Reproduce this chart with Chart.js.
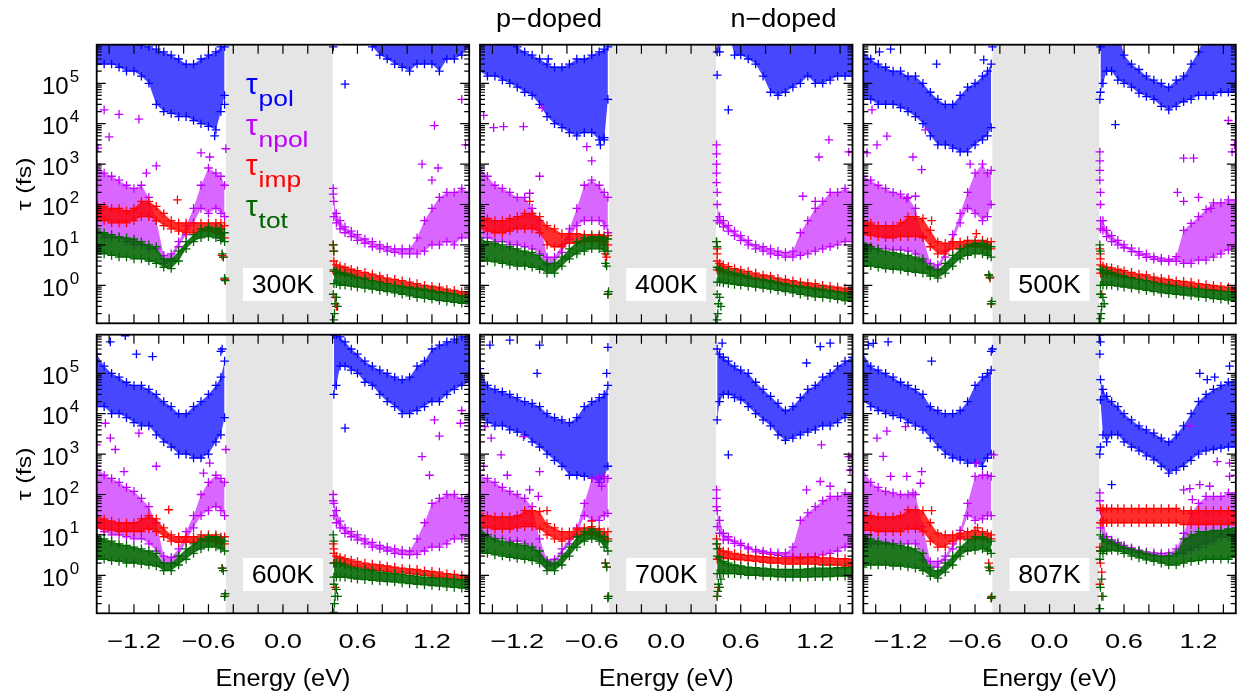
<!DOCTYPE html>
<html>
<head>
<meta charset="utf-8">
<script src="https://cdn.jsdelivr.net/npm/chart.js@4.4.1/dist/chart.umd.min.js"></script>
<style>
  html, body { margin: 0; padding: 0; background: #fff; }
  #wrap { position: relative; width: 1243px; height: 696px; }
  #wrap canvas { position: absolute; left: 0; top: 0; }
</style>
</head>
<body>
<div id="wrap"></div>
<script>
// energy grid (eV): 19 points on the p side, 21 on the n side
const ENERGY = [-1.50,-1.44,-1.38,-1.32,-1.26,-1.20,-1.14,-1.08,-1.02,-0.96,-0.90,-0.84,-0.78,-0.72,-0.66,-0.60,-0.54,-0.50,-0.47,
  0.41,0.43,0.46,0.50,0.55,0.60,0.66,0.72,0.78,0.84,0.90,0.96,1.02,1.08,1.14,1.20,1.26,1.32,1.38,1.44,1.50];
const N_LEFT = 19;

const TEMPS = ['300K','400K','500K','600K','700K','807K'];
const SERIES = ['pol','npol','imp','tot'];
const COLORS = ['#0000ff','#c000ff','#ff0000','#006400'];
const FILL_ALPHA = [0.72, 0.6, 0.82, 0.88];

const XTICKS = [-1.4,-1.2,-1.0,-0.8,-0.6,-0.4,-0.2,0,0.2,0.4,0.6,0.8,1.0,1.2,1.4];
const XLABELS = [-1.2,-0.6,0,0.6,1.2];
const XLABEL_TEXT = ['\u22121.2','\u22120.6','0.0','0.6','1.2'];
const YDECADES = [0,1,2,3,4,5];
const GAP = [-0.46, 0.40];
const YMIN = 0.1147, YMAX = 9.03e5;

// ---- 300K ----
const polHi300 = [2e6,2e6,2e6,2e6,2e6,2e6,9e5,8e5,7e5,6e5,5e5,4e5,3e5,3e5,4e5,5e5,6e5,8e5,8e5,
  2e6,2e6,2e6,2e6,2e6,2e6,2e6,2e6,2e6,2e6,2e6,2e6,2e6,2e6,2e6,2e6,2e6,2e6,2e6,2e6,2e6];
const polLo300 = [3e5,3e5,3e5,2.5e5,2e5,2e5,1.5e5,1e5,3e4,2e4,1.8e4,1.5e4,1.5e4,1.2e4,1e4,8.6e3,7e3,2e4,5e4,
  2e6,2e6,2e6,2e6,2e6,2e6,2e6,8e5,5e5,4e5,3e5,2.5e5,2e5,3e5,3e5,3e5,2e5,4e5,4e5,5e5,8e5];
const npolHi300 = [1000,600,500,400,300,250,300,150,40,5.5,6,12,30,80,300,800,600,500,300,
  120,60,40,28,22,18,14,12,10,9,8,8,8,15,40,80,150,200,200,250,200];
const npolLo300 = [20,15,15,15,12,10,10,8,8,3.5,4,9,18,35,80,60,80,60,50,
  50,35,25,20,16,13,11,9,8,7,6.5,6,6,6,7,10,10,12,10,15,15];
const impHi300 = [100,90,80,80,70,80,120,120,90,60,40,35,35,35,35,35,35,35,30,
  4,3.2,3,2.8,2.5,2.3,2.1,1.9,1.7,1.5,1.4,1.3,1.2,1.1,1.0,0.95,0.9,0.8,0.75,0.7,0.65];
const impLo300 = [40,40,35,35,35,40,50,50,40,30,25,22,20,20,22,22,20,18,15,
  2.2,2,2,1.8,1.7,1.5,1.4,1.3,1.2,1.1,1.0,0.9,0.85,0.8,0.75,0.7,0.65,0.62,0.6,0.55,0.5];
const totHi300 = [25,20,18,16,15,14,12,10,9,4.5,4.5,7,12,18,25,28,26,25,20,
  2.4,2.2,2.1,2.0,1.8,1.6,1.5,1.3,1.2,1.1,1.0,0.95,0.9,0.85,0.8,0.75,0.7,0.65,0.6,0.55,0.55];
const totLo300 = [6,6,5.5,5,5,4.5,4.5,4,3.5,2.8,2.6,4,8,12,15,16,15,13,12,
  1.1,1.1,1.0,1.0,0.95,0.9,0.85,0.8,0.75,0.7,0.65,0.6,0.55,0.5,0.48,0.45,0.42,0.4,0.38,0.36,0.35];
const polX300 = [[0.405,8e5],[0.5,9.5e4],[-0.47,3e4],[-0.55,5e3]];
const npolX300 = [[0.405,250],[0.405,180],[1.44,4e4],[1.22,9e3],[1.47,3e3],[1.12,1000],[1.25,800],[1.2,400],
  [-1.44,2.2e4],[-1.32,1.7e4],[-1.16,1.3e4],[-1.4,4.7e3],[-1.49,2.5e3],[-1.02,900],[-1.1,600],[-0.66,1900],[-0.46,2.4e3],[-0.59,1500]];
const impX300 = [[-0.49,5.5],[-0.48,5],[-0.47,1.4],[0.405,10],[0.41,7],[0.42,0.5],[0.43,0.3],[-0.85,130]];
const totX300 = [[-0.49,6],[-0.48,5],[-0.47,1.5],[-0.465,1.3],[0.405,10],[0.41,7],[0.41,0.14],[0.415,0.2],[0.42,0.35],[0.43,0.5],[0.44,0.3],[0.405,0.6]];

// ---- 400K ----
const polHi400 = [2e6,2e6,2e6,2e6,2e6,8e5,6e5,5e5,4e5,3e5,2.5e5,2.5e5,3e5,4e5,4e5,5e5,6e5,7e5,8e5,
  2e6,2e6,2e6,2e6,2e6,2e6,2e6,2e6,2e6,2e6,2e6,2e6,2e6,2e6,2e6,2e6,2e6,2e6,2e6,2e6,2e6];
const polLo400 = [2e5,1.5e5,1.5e5,1.2e5,1e5,8e4,6e4,5e4,3e4,1.5e4,1e4,8e3,6e3,5e3,6e3,6e3,4e3,4e3,4e4,
  6e5,6e5,2e6,2e6,5e5,5e5,4e5,3e5,1.5e5,6e4,5e4,6e4,8e4,1e5,1.5e5,1e5,1e5,1.2e5,1.5e5,1.5e5,1.5e5];
const npolHi400 = [800,500,300,250,200,150,150,80,40,5,5,10,25,80,300,400,300,200,150,
  100,50,40,30,22,17,13,10,9,8,7,6.5,7,20,40,80,120,200,200,250,200];
const npolLo400 = [15,15,12,12,10,10,9,8,6,3.2,3.5,6.5,14,30,40,40,40,30,20,
  40,35,28,22,17,13,10,8,7,6,5.5,5,5,5.5,6,7,8,9,10,12,12];
const impHi400 = [50,45,40,40,45,50,60,60,50,30,25,19,19,19,18,18,18,17,17,
  4,3.5,3.2,2.9,2.6,2.4,2.2,2.0,1.8,1.7,1.5,1.4,1.3,1.2,1.15,1.1,1.0,0.95,0.9,0.85,0.85];
const impLo400 = [25,22,20,20,22,25,25,25,20,10,9,9,11,11,12,12,12,10,10,
  2.4,2.3,2.2,2.0,1.8,1.7,1.5,1.4,1.3,1.2,1.1,1.0,0.95,0.9,0.85,0.8,0.75,0.72,0.7,0.65,0.62];
const totHi400 = [15,12,11,10,9,8,7,6.5,5.5,3.5,3.5,5,8,12,15,16,16,15,14,
  2.8,2.6,2.4,2.2,2.0,1.9,1.7,1.5,1.4,1.3,1.2,1.1,1.0,0.95,0.9,0.85,0.8,0.75,0.7,0.65,0.65];
const totLo400 = [4,4,3.8,3.5,3.2,3,3,2.8,2.5,2,2,3,4.5,6,7,8,8,7,7,
  1.2,1.2,1.15,1.1,1.05,1.0,0.95,0.9,0.85,0.8,0.75,0.7,0.65,0.6,0.55,0.52,0.5,0.48,0.45,0.42,0.4];
const polX400 = [[0.41,1.6e5],[0.5,2.2e4],[-0.53,3e3],[-0.5,4.5e3],[-0.95,4e5]];
const npolX400 = [[0.405,3000],[0.405,1800],[0.405,1000],[0.405,600],[0.405,350],[0.41,200],[1.31,4000],[1.23,1500],[1.47,2000],[1.1,160],[1.2,120],
  [-1.47,1.6e4],[-1.39,8e3],[-1.31,8.5e3],[-1.15,8.5e3],[-1.0,2.5e4],[-0.64,2.7e3],[-1.02,500],[-1.1,190],[-0.6,1200]];
const impX400 = [[0.405,12],[0.41,8],[0.41,6],[-0.49,6],[-0.48,5],[-0.47,0.6],[-1.1,120]];
const totX400 = [[-0.49,3.5],[-0.48,3],[-0.47,0.6],[-0.465,0.7],[0.405,12],[0.41,9],[0.41,0.14],[0.415,0.2],[0.42,0.35],[0.43,0.5],[0.44,0.3],[0.41,0.6]];

// ---- 500K ----
const polHi500 = [6e5,4e5,3e5,2.5e5,2e5,2e5,1.5e5,1.5e5,1e5,6e4,4e4,3e4,3e4,5e4,8e4,1e5,1.5e5,2e5,3e5,
  8e5,2e6,2e6,2e6,2e6,5e5,3e5,2.2e5,1.5e5,1.2e5,1e5,8e4,1.2e5,1.5e5,3e5,6e5,2e6,2e6,2e6,2e6,2e6];
const polLo500 = [4e4,4e4,3e4,3e4,3e4,2.5e4,2e4,1.5e4,1e4,5e3,3e3,3e3,2.5e3,2e3,2e3,3e3,4e3,5e3,8e3,
  6e4,1e5,2e5,2e5,1.2e5,1e5,8e4,5.7e4,4.7e4,4e4,2.7e4,2.2e4,2.7e4,3.5e4,4e4,5e4,5e4,5e4,6e4,6e4,6e4];
const npolHi500 = [500,400,300,250,200,180,150,80,16,3.5,3.2,7,18,60,200,600,1000,600,700,
  40,40,23,17,13,10,8.3,6.8,6,5.1,4.7,4.4,5.1,23,34,50,75,110,110,130,130];
const npolLo500 = [8,8,8,8,7.5,7.5,7,6,4,2.6,2.5,5,12,35,80,60,40,50,100,
  25,23,16,12,10,8.5,6.8,5.6,4.9,4.4,4,3.9,3.9,3.5,3.5,4.2,4.2,5,6,7.5,9];
const impHi500 = [40,35,30,30,30,35,50,50,45,23,12,11,12,12,13,13,13,12,12,
  3.2,3,2.8,2.7,2.5,2.3,2.1,1.9,1.8,1.6,1.5,1.4,1.3,1.25,1.2,1.1,1.05,1.0,0.95,0.9,0.85];
const impLo500 = [18,17,16,15,15,16,16,16,15,9,6,6,8,8,9,9,9,8,8,
  2,2,1.9,1.9,1.7,1.6,1.5,1.4,1.3,1.2,1.1,1.05,1.0,0.95,0.9,0.85,0.8,0.78,0.75,0.72,0.7];
const totHi500 = [11,9,8,7,6.5,6,5.5,5,4.5,2.8,2.4,3.5,5.5,8,10,11,11,10,9,
  2.5,2.3,2.3,2.1,1.9,1.7,1.55,1.4,1.3,1.2,1.1,1.0,0.95,0.9,0.85,0.82,0.78,0.75,0.72,0.7,0.68];
const totLo500 = [3,3,2.8,2.6,2.5,2.4,2.2,2.1,2,1.7,1.5,2,3,4.5,5.5,6,6,5.5,5,
  1.0,1.0,1.0,1.0,0.95,0.9,0.85,0.8,0.75,0.7,0.65,0.62,0.6,0.57,0.55,0.52,0.5,0.47,0.45,0.43,0.42];
const polX500 = [[0.53,9.5e3],[0.405,4e4],[-1.37,6e5],[-1.28,7e5],[-0.53,3.8e5],[-0.91,3e5],[-0.46,8e5]];
const npolX500 = [[0.405,2000],[0.405,1200],[0.405,700],[0.405,400],[0.41,200],[0.41,100],[1.08,1400],[1.16,1400],[1.44,1.2e4],[1.5,6000],[1.49,3000],[1.47,2000],[1.03,200],[1.08,120],[1.2,150],[1.3,80],
  [-1.43,2.2e4],[-1.31,4.9e3],[-1.39,3e3],[-1.47,1.9e3],[-1.1,1.5e3],[-1.03,730],[-1.0,7e3],[-0.64,1e3],[-1.08,160],[-1.15,140]];
const impX500 = [[0.405,8],[0.41,6],[0.41,4.5],[0.42,0.6],[-0.49,1.8],[-0.48,1.5],[-0.47,0.35],[-0.59,19],[-0.95,40]];
const totX500 = [[-0.49,1.8],[-0.48,1.6],[-0.47,0.35],[-0.465,0.4],[0.405,10],[0.41,7],[0.41,0.15],[0.415,0.2],[0.42,0.3],[0.43,0.5],[0.44,0.35],[0.41,0.6]];

// ---- 600K ----
const polHi600 = [3e5,1.5e5,1e5,8e4,6e4,5e4,5e4,4e4,3e4,2e4,1.5e4,1e4,1e4,1.5e4,2e4,3e4,5e4,8e4,2e5,
  9e5,9e5,8e5,6e5,4e5,3e5,2e5,1.5e5,1.2e5,1e5,8e4,7e4,8e4,1.5e5,2e5,4e5,5e5,6e5,7e5,8e5,9e5];
const polLo600 = [1.5e4,1.5e4,1e4,1e4,8e3,6e3,5e3,5e3,3e3,2e3,1.5e3,1e3,1e3,800,800,1e3,2e3,3e3,8e3,
  3e4,5e4,1.5e5,1.5e5,1.2e5,1e5,6e4,5e4,3e4,2e4,1.5e4,1e4,1e4,1.2e4,1.5e4,2e4,2e4,3e4,4e4,5e4,6e4];
const npolHi600 = [500,300,250,200,150,120,80,50,20,3,2.8,4.5,12,30,100,200,300,250,200,
  60,40,22,15,12,10,8,6.5,5.5,5,4.5,4.2,4,8,20,60,80,100,100,80,100];
const npolLo600 = [15,12,10,10,9,8,8,6,4,2,2,3,7,15,30,40,50,40,30,
  30,20,15,11,9,7.5,6,5,4.5,4,3.5,3.3,3.2,3.3,4,5,5,6,8,8,10];
const impHi600 = [30,25,22,20,20,20,25,30,25,15,10,9,9,9,10,10,10,9,9,
  3.5,3,2.8,2.6,2.4,2.2,2.0,1.9,1.8,1.7,1.6,1.5,1.45,1.4,1.3,1.25,1.2,1.1,1.05,1.0,0.95];
const impLo600 = [15,14,13,12,12,12,12,14,12,9,7,6.5,6.5,6.5,7,7,6.5,6,6,
  2,2,2,1.9,1.7,1.6,1.5,1.4,1.3,1.25,1.2,1.15,1.1,1.05,1.0,0.95,0.9,0.85,0.8,0.78,0.75];
const totHi600 = [10,8,7,6,5.5,5,4.5,4,3.5,2,2,3,4.5,6,8,9,9,8,7,
  2,2,2,1.8,1.6,1.5,1.4,1.3,1.2,1.15,1.1,1.05,1.0,0.95,0.9,0.88,0.85,0.82,0.8,0.78,0.75];
const totLo600 = [2.5,2.5,2.3,2.2,2,2,1.9,1.8,1.7,1.3,1.3,1.8,2.5,3.5,4.5,5,5,4.5,4,
  0.9,0.9,0.9,0.9,0.85,0.8,0.78,0.75,0.72,0.7,0.68,0.65,0.62,0.6,0.58,0.56,0.54,0.52,0.5,0.48,0.45];
const polX600 = [[0.5,4.4e3],[-1.39,6e5],[-1.27,8.5e5],[-1.18,3e5],[-1.05,2.6e5],[-0.5,3.5e5],[-0.49,4e5]];
const npolX600 = [[0.405,100],[0.405,70],[1.22,7e3],[1.44,1.2e4],[1.26,2.8e3],[1.12,870],[1.18,300],[1.43,5.8e3],
  [-1.43,5.8e3],[-1.39,2.5e3],[-1.5,1.7e3],[-1.16,3.3e3],[-1.35,1.3e3],[-1.02,500],[-1.28,370],[-0.46,1.3e3],[-0.59,600],[-0.64,340]];
const impX600 = [[0.405,6],[0.41,4.5],[0.42,0.5],[-0.49,1.5],[-0.47,0.3],[-0.92,42]];
const totX600 = [[-0.49,1.5],[-0.48,1.3],[-0.47,0.3],[-0.465,0.35],[0.405,10],[0.41,7],[0.41,0.12],[0.415,0.2],[0.42,0.3],[0.43,0.45],[0.44,0.3],[0.41,0.6]];

// ---- 700K ----
const polHi700 = [1.3e5,5e4,4e4,3.5e4,3e4,2.5e4,2e4,1.8e4,1.5e4,1e4,8e3,7e3,6e3,8e3,1.5e4,2e4,2.5e4,3e4,5e4,
  4e5,3e5,2.5e5,2e5,1.5e5,1.2e5,1e5,6e4,4e4,2.7e4,1.8e4,1.2e4,1.5e4,2.5e4,4e4,5e4,8e4,1e5,1.5e5,2e5,2.5e5];
const polLo700 = [8e3,6e3,5e3,5e3,4e3,3.5e3,3e3,2e3,1.5e3,1e3,700,500,300,300,280,250,200,250,500,
  7e3,2e4,3e4,3e4,2.5e4,2.2e4,1.5e4,1e4,7e3,5e3,3e3,2.2e3,2.5e3,3e3,3.5e3,4e3,5e3,5e3,6e3,8e3,1e4];
const npolHi700 = [300,250,200,150,120,100,80,50,8,2.4,2.5,4.5,8,15,60,250,280,280,250,
  40,23,11,9,7,6.2,5,4.3,4,3.7,3.6,3.6,5,23,35,50,70,90,90,110,110];
const npolLo700 = [10,9,8,8,7,7,6,5,3,1.7,1.9,3.5,6,10,30,23,23,30,34,
  16,11,7.5,7.5,6.2,5.5,4.5,3.8,3.5,3.3,3.1,2.9,2.9,2.6,2.8,2.9,3.2,3.5,4,5,5];
const impHi700 = [34,30,28,28,28,30,40,40,38,19,15,12,12,14,15,16,14,12,12,
  6,4.5,4,3.8,3.5,3.3,3.1,3.0,2.9,2.8,2.7,2.7,2.7,2.8,2.8,2.8,2.7,2.7,2.6,2.6,2.5];
const impLo700 = [15,15,14,14,14,15,16,16,14,10,8,7,8,9,10,10,9,8,8,
  2.5,2.7,2.7,2.6,2.5,2.4,2.3,2.2,2.1,2.0,2.0,1.9,1.9,1.9,1.9,1.9,1.8,1.8,1.8,1.7,1.7];
const totHi700 = [15,10,8,7,6.5,6,5.5,5,4,2.2,2,3,5,9,12,14,12,9,7,
  3,2.8,2.2,2.0,1.8,1.7,1.6,1.55,1.5,1.45,1.4,1.4,1.4,1.4,1.45,1.5,1.5,1.5,1.55,1.55,1.6];
const totLo700 = [3.5,3.5,3.2,3,2.8,2.6,2.5,2.3,2,1.3,1.3,1.8,3,5,7,8,7,5,4,
  1.1,1.1,1.1,1.1,1.1,1.05,1.0,1.0,0.95,0.95,0.92,0.9,0.9,0.9,0.9,0.92,0.92,0.93,0.95,0.95,0.95];
const polX700 = [[0.5,960],[-1.42,5e5],[-1.26,6.6e5],[-1.02,5e5],[-1.04,1e5],[-0.47,4.4e5],[-0.48,1e5],[1.24,4.6e5],[1.32,5.6e5],[1.13,1.8e5],[0.45,5.6e5]];
const npolX700 = [[0.405,130],[0.405,80],[0.405,50],[1.24,210],[1.32,160],[1.13,130],[1.25,1700],[1.47,870],[1.48,400],
  [-1.46,4.8e3],[-1.41,2.5e3],[-1.33,960],[-1.47,500],[-1.28,300],[-1.02,370],[-1.15,2.7e3],[-1.1,130],[-1.03,90],[-0.52,160]];
const impX700 = [[0.405,8],[0.41,0.3],[0.42,0.5],[-0.49,2],[-0.48,1.6],[-0.47,0.3],[-0.6,22],[-0.96,40]];
const totX700 = [[-0.49,2],[-0.48,1.6],[-0.47,0.27],[-0.465,0.3],[0.405,6],[0.41,4.5],[0.41,0.3],[0.415,0.4],[0.42,0.6],[0.43,0.5],[0.44,0.8]];

// ---- 807K ----
const polHi807 = [3e5,1.5e5,1.2e5,1e5,8e4,6e4,5e4,4e4,3e4,1.5e4,1.2e4,1e4,1e4,1.2e4,2e4,5e4,8e4,1e5,1.2e5,
  7e4,4e4,2.7e4,2e4,1.5e4,1e4,7e3,5e3,4e3,3.3e3,2.5e3,2e3,3e3,5e3,1e4,2e4,3e4,4e4,5e4,6e4,7e4];
const polLo807 = [2e4,1.5e4,1.2e4,1e4,9e3,8e3,6e3,5e3,4e3,2.5e3,1.5e3,1e3,800,720,600,600,500,800,1000,
  2.2e4,3e3,2e3,3e3,3e3,2e3,1.5e3,1.2e3,900,720,500,340,400,500,700,1e3,1.2e3,1.3e3,1.4e3,1.5e3,1.5e3];
const npolHi807 = [400,200,150,120,110,100,100,100,16,2.2,2.2,3,6,13,60,280,300,300,280,
  40,23,9,7.5,6.5,5.5,4.8,4.2,3.8,3.6,3.5,3.6,4.5,11,34,60,90,90,90,110,110];
const npolLo807 = [5,6,6,6,6,6,6,6,2.4,1.6,1.6,2.4,4.5,9,30,23,25,30,30,
  15,9,6.8,6.2,5.5,4.8,4.2,3.7,3.3,3.1,3,3.1,3.4,3.5,4.2,5,6,7,9,9,9];
const impHi807 = [35,30,28,28,28,30,42,42,40,20,11,10,10,11,12,13,12,11,10,
  45,45,45,45,45,45,45,45,45,45,45,45,45,40,40,40,40,40,40,40,40];
const impLo807 = [13,13,12,12,12,12,14,14,12,7,5,5,7,8,8,8,8,8,8,
  20,20,20,20,20,20,20,20,20,20,20,20,20,18,18,18,18,18,18,18,18];
const totHi807 = [10,8,7,6.5,6,5.5,5,4.5,3.5,1.5,1.3,2,3,5,7.5,9,9,8,7,
  10,8,7.5,7,6,5,4.5,4,3.5,3.2,3,3,3.5,8,10,12,12,13,13,14,15];
const totLo807 = [1.6,1.8,1.8,1.8,1.7,1.7,1.6,1.5,1.3,0.95,0.85,1.2,1.8,3,4,4.2,4.5,4,3.5,
  4,3.5,4,4.2,4,3.5,3,2.7,2.4,2.2,2,1.8,1.8,2,2.2,2.3,2.5,2.5,2.5,2.5,2.8];
const polX807 = [[0.405,9e5],[0.41,6e5],[0.405,3e5],[0.405,1e3],[0.41,1.5e3],[0.5,175],[1.21,1e5],[1.27,7e4],[1.33,8e4],[1.45,1.5e5],
  [-1.46,5e5],[-1.42,5.5e5],[-1.3,6e5],[-0.46,4e5],[-0.47,3.5e5],[-0.95,2e5]];
const npolX807 = [[0.405,110],[0.405,70],[0.41,45],[1.08,130],[1.13,140],[1.21,175],[1.29,160],[1.15,75],[1.45,280],[1.45,600],[1.35,650],[1.48,4e3],[1.13,5e3],
  [-1.16,4.8e3],[-1.31,3.7e3],[-1.39,2.5e3],[-1.34,880],[-1.28,280],[-1.15,280],[-1.03,370],[-1.04,190],[-1.1,110],[-0.45,960],[-0.59,600]];
const impX807 = [[0.405,5],[0.41,4],[0.41,2],[0.42,1.2],[0.405,0.6],[-0.49,2],[-0.48,1.5],[-0.47,0.28],[-0.95,40],[-0.58,15],[0.42,0.3]];
const totX807 = [[-0.49,1.6],[-0.48,1.3],[-0.47,0.27],[-0.465,0.3],[0.405,0.15],[0.41,0.5],[0.42,0.8],[0.405,2.5],[0.43,0.3]];

const PANELS = [
  { hi: [polHi300, npolHi300, impHi300, totHi300], lo: [polLo300, npolLo300, impLo300, totLo300], extra: [polX300, npolX300, impX300, totX300] },
  { hi: [polHi400, npolHi400, impHi400, totHi400], lo: [polLo400, npolLo400, impLo400, totLo400], extra: [polX400, npolX400, impX400, totX400] },
  { hi: [polHi500, npolHi500, impHi500, totHi500], lo: [polLo500, npolLo500, impLo500, totLo500], extra: [polX500, npolX500, impX500, totX500] },
  { hi: [polHi600, npolHi600, impHi600, totHi600], lo: [polLo600, npolLo600, impLo600, totLo600], extra: [polX600, npolX600, impX600, totX600] },
  { hi: [polHi700, npolHi700, impHi700, totHi700], lo: [polLo700, npolLo700, impLo700, totLo700], extra: [polX700, npolX700, impX700, totX700] },
  { hi: [polHi807, npolHi807, impHi807, totHi807], lo: [polLo807, npolLo807, impLo807, totLo807], extra: [polX807, npolX807, impX807, totX807] }
];

// page layout of the six frames
const COL_LEFT = [96.7, 480, 863.3];
const ROW_TOP = [44.7, 334.7];
const PANEL_W = 372.5, PANEL_H = 278.6;
const FONT = '"Liberation Sans", Arial, Helvetica, sans-serif';

function rgba(hex, a) {
  const n = parseInt(hex.slice(1), 16);
  return 'rgba(' + (n >> 16) + ',' + ((n >> 8) & 255) + ',' + (n & 255) + ',' + a + ')';
}

function pts(vals, from, to) {
  const out = [];
  for (let i = from; i < to; i++) out.push({ x: ENERGY[i], y: vals[i] });
  return out;
}

// text with a horizontal stretch, like the reference lettering
function txt(ctx, s, x, y, size, align, sx) {
  ctx.save();
  ctx.font = size + 'px ' + FONT;
  ctx.textAlign = align;
  ctx.textBaseline = 'alphabetic';
  ctx.fillStyle = '#000';
  ctx.translate(x, y);
  ctx.scale(sx, 1);
  ctx.fillText(s, 0, 0);
  ctx.restore();
}

function decor(i) {
  const col = i % 3, row = Math.floor(i / 3);
  return {
    id: 'decor' + i,
    beforeDatasetsDraw(chart) {
      const { ctx, chartArea: a, scales: { x } } = chart;
      const x0 = x.getPixelForValue(GAP[0]), x1 = x.getPixelForValue(GAP[1]);
      ctx.save();
      ctx.fillStyle = '#e5e5e5';
      ctx.fillRect(x0, a.top, x1 - x0, a.bottom - a.top);
      ctx.restore();
    },
    afterDatasetsDraw(chart) {
      const { ctx, chartArea: a, scales: { x, y } } = chart;

      // temperature box
      const cx = x.getPixelForValue(0), cy = y.getPixelForValue(1);
      ctx.save();
      ctx.fillStyle = '#fff';
      ctx.fillRect(cx - 40, cy - 17.3, 80, 33);
      ctx.restore();
      txt(ctx, TEMPS[i], cx, cy + 8, 25, 'center', 1.07);

      // legend only in the first panel
      if (i === 0) {
        const lx = x.getPixelForValue(-0.30);
        SERIES.forEach((s, k) => {
          const by = a.top + 49.5 + k * 40.5;
          ctx.save();
          ctx.fillStyle = COLORS[k];
          ctx.translate(lx, by);
          ctx.font = '30px ' + FONT;
          ctx.fillText('\u03c4', 0, 0);
          const w = ctx.measureText('\u03c4').width;
          ctx.scale(1.2, 1);
          ctx.font = '22px ' + FONT;
          ctx.fillText(s, (w + 1) / 1.2, 12);
          ctx.restore();
        });
      }

      // inward ticks on all four sides
      ctx.save();
      ctx.strokeStyle = '#000';
      ctx.lineWidth = 1.2;
      ctx.beginPath();
      XTICKS.forEach(v => {
        const px = x.getPixelForValue(v);
        ctx.moveTo(px, a.bottom); ctx.lineTo(px, a.bottom - 9);
        ctx.moveTo(px, a.top); ctx.lineTo(px, a.top + 9);
      });
      for (let k = -1; k <= 5; k++) {
        for (let m = 1; m <= 9; m++) {
          const v = m * Math.pow(10, k);
          if (v < YMIN || v > YMAX) continue;
          const py = y.getPixelForValue(v);
          const len = m === 1 ? 9 : 5;
          ctx.moveTo(a.left, py); ctx.lineTo(a.left + len, py);
          ctx.moveTo(a.right, py); ctx.lineTo(a.right - len, py);
        }
      }
      ctx.stroke();
      ctx.lineWidth = 1.8;
      ctx.strokeRect(a.left, a.top, a.right - a.left, a.bottom - a.top);
      ctx.restore();

      if (col === 0) {
        YDECADES.forEach(k => {
          const py = y.getPixelForValue(Math.pow(10, k));
          txt(ctx, '10', a.left - 28, py + 10.7, 24, 'right', 1.0);
          txt(ctx, String(k), a.left - 27, py - 1.6, 17, 'left', 1.0);
        });
        ctx.save();
        ctx.translate(31, (a.top + a.bottom) / 2);
        ctx.rotate(-Math.PI / 2);
        txt(ctx, '\u03c4 (fs)', 0, 0, 20, 'center', 1.25);
        ctx.restore();
      }

      if (row === 1) {
        XLABELS.forEach((v, k) => {
          txt(ctx, XLABEL_TEXT[k], x.getPixelForValue(v), a.bottom + 35, 21, 'center', 1.3);
        });
        txt(ctx, 'Energy (eV)', (a.left + a.right) / 2, a.bottom + 72.7, 23, 'center', 1.1);
      }

      if (i === 1) {
        txt(ctx, 'p\u2212doped', x.getPixelForValue(-0.944), 26.7, 25, 'center', 1.08);
        txt(ctx, 'n\u2212doped', x.getPixelForValue(0.944), 26.7, 25, 'center', 1.08);
      }
    }
  };
}

const wrap = document.getElementById('wrap');

PANELS.forEach((p, i) => {
  const col = i % 3, row = Math.floor(i / 3);
  const left = COL_LEFT[col], top = ROW_TOP[row];

  const datasets = [];
  SERIES.forEach((name, s) => {
    const order = 4 - s;
    [[0, N_LEFT], [N_LEFT, ENERGY.length]].forEach(([a, b]) => {
      datasets.push({ type: 'line', data: pts(p.hi[s], a, b), borderWidth: 0, pointRadius: 0, fill: false, order: order });
      datasets.push({ type: 'line', data: pts(p.lo[s], a, b), borderWidth: 0, pointRadius: 0,
        fill: '-1', backgroundColor: rgba(COLORS[s], FILL_ALPHA[s]), order: order });
    });
    const cloud = pts(p.hi[s], 0, ENERGY.length)
      .concat(pts(p.lo[s], 0, ENERGY.length))
      .concat(p.extra[s].map(([e, t]) => ({ x: e, y: t })));
    datasets.push({ type: 'scatter', label: name, data: cloud, pointStyle: 'cross', pointRadius: 4.3,
      borderColor: COLORS[s], backgroundColor: COLORS[s], borderWidth: 1.3, order: order - 0.5 });
  });

  const canvas = document.createElement('canvas');
  canvas.width = 1243;
  canvas.height = 696;
  wrap.appendChild(canvas);

  new Chart(canvas.getContext('2d'), {
    type: 'scatter',
    data: { datasets: datasets },
    options: {
      responsive: false,
      animation: false,
      events: [],
      layout: { padding: { left: left, top: top, right: 1243 - left - PANEL_W, bottom: 696 - top - PANEL_H } },
      plugins: { legend: { display: false }, tooltip: { enabled: false } },
      scales: {
        x: { type: 'linear', min: -1.5, max: 1.5, bounds: 'data', display: false },
        y: { type: 'logarithmic', min: YMIN, max: YMAX, bounds: 'data', display: false }
      }
    },
    plugins: [decor(i)]
  });
});
</script>
</body>
</html>
